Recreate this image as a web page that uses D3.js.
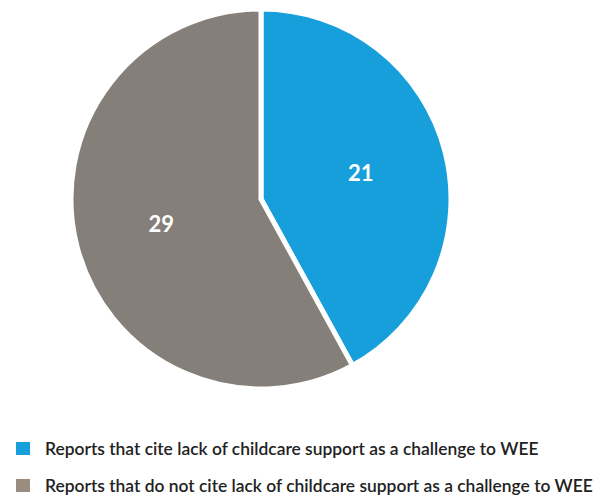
<!DOCTYPE html>
<html><head><meta charset="utf-8">
<script src="https://cdn.jsdelivr.net/npm/d3@7"></script>
<style>html,body{margin:0;padding:0;background:#fff;}svg{display:block;}</style>
</head><body>
<svg id="chart" width="595" height="497"></svg>
<script>
const categories = ["Reports that cite lack of childcare support as a challenge to WEE",
                    "Reports that do not cite lack of childcare support as a challenge to WEE"];
const values = [21, 29];
const sliceColors = ["#169fdb", "#857f7a"];
const legendColors = ["#169fdb", "#9a8c7f"];

const svg = d3.select("#chart");
const cx = 261, cy = 199, r = 190;
const pie = d3.pie().sort(null).value(d => d)(values);
const arc = d3.arc().innerRadius(0).outerRadius(r);
const labelArc = d3.arc().innerRadius(103).outerRadius(103);
const g = svg.append("g").attr("transform", `translate(${cx},${cy})`);
g.selectAll("path").data(pie).join("path")
  .attr("d", arc).attr("fill", (d,i) => sliceColors[i])
  .attr("stroke", "#fff").attr("stroke-width", 5).attr("stroke-linejoin", "miter");
g.selectAll("text").data(pie).join("text")
  .attr("transform", d => `translate(${labelArc.centroid(d)})`)
  .attr("text-anchor", "middle").attr("dy", "0.35em")
  .attr("fill", "#fff").attr("font-family", "Lato, sans-serif")
  .attr("font-weight", "bold").attr("font-size", 22)
  .text(d => d.data);

const leg = svg.append("g");
const rows = leg.selectAll("g").data(categories).join("g")
  .attr("transform", (d,i) => `translate(16,${442 + i*37})`);
rows.append("rect").attr("width", 14).attr("height", 13).attr("fill", (d,i) => legendColors[i]);
const texts = rows.append("text").attr("x", 29).attr("y", 13)
  .attr("font-family", "Lato, sans-serif").attr("font-size", 18)
  .attr("font-weight", 600).attr("fill", "#222")
  .text(d => d);
const w2 = texts.nodes()[1].getComputedTextLength();
if (w2 > 548) texts.attr("font-size", 18 * 548 / w2);
</script>
</body></html>
